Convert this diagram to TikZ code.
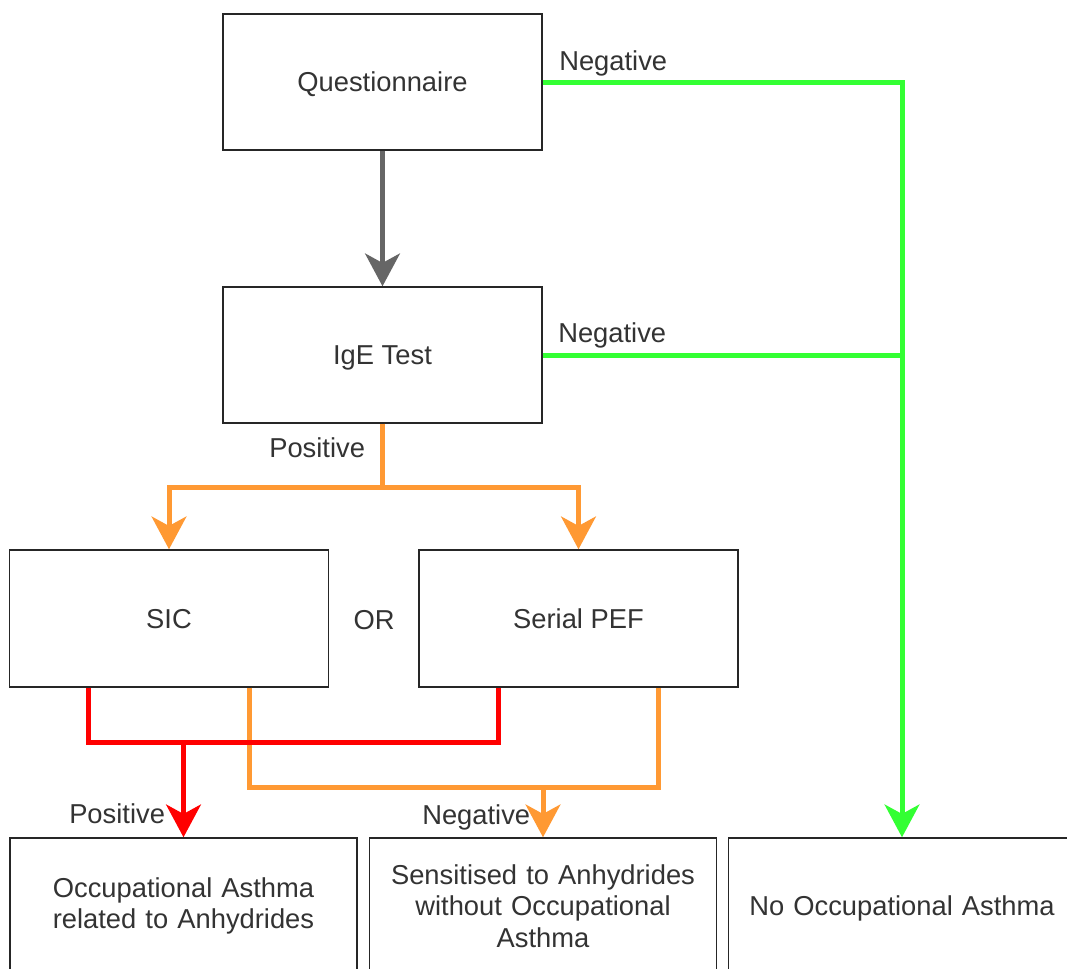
\documentclass[tikz,border=0pt]{standalone}
\usepackage{fontspec}
\setmainfont{Liberation Sans}
\usetikzlibrary{arrows.meta,calc}
\definecolor{txt}{HTML}{333333}
\definecolor{grn}{HTML}{33FF33}
\definecolor{org}{HTML}{FF9933}
\definecolor{rd}{HTML}{FF0000}
\definecolor{gy}{HTML}{666666}
\tikzset{
  box/.style={draw=black!85, line width=1.1pt, fill=white, inner sep=0pt, align=center,
    text=txt, font=\fontsize{20.5}{23.8}\selectfont},
  wbox/.style={box, minimum width=239.25pt, minimum height=102pt, text depth=0pt},
  bbox/.style={box, minimum width=260.5pt, minimum height=102pt, text width=240pt},
  conn/.style={line width=3.75pt, line join=miter},
  tip/.style={-{Stealth[length=24.5pt, width=26pt, inset=7pt]}},
  lbl/.style={text=txt, font=\fontsize{20.5}{23.8}\selectfont, inner sep=0pt, anchor=base west}
}
\begin{document}
\begin{tikzpicture}[x=0.75pt, y=-0.75pt]
\useasboundingbox (0,0) rectangle (1067,968);
\clip (0,0) rectangle (1067,968);
\fill[white] (0,0) rectangle (1067,968);

\node[wbox] (q) at (382.5,82) {Questionnaire};
\node[wbox] (ige) at (382.5,355) {IgE Test};
\node[wbox, minimum height=102.75pt] (sic) at (169,618.5) {SIC};
\node[wbox, minimum height=102.75pt] (pef) at (578.5,618.5) {Serial PEF};
\node[text=txt, font=\fontsize{20.5}{23.8}\selectfont, inner sep=0pt, text depth=0pt] (or) at (374,620) {OR};
\node[bbox] (b1) at (183.5,906) {Occupational Asthma\\related to Anhydrides};
\node[bbox] (b2) at (543,906) {Sensitised to Anhydrides\\without Occupational\\Asthma};
\node[bbox, text depth=0pt] (b3) at (902,906) {No Occupational Asthma};

\coordinate (posy) at (0,487);
\coordinate (redy) at (0,742);
\coordinate (orgy) at (0,787);
\coordinate (sA) at ($(sic.south west)!.25!(sic.south east)$);
\coordinate (sB) at ($(sic.south west)!.75!(sic.south east)$);
\coordinate (pA) at ($(pef.south west)!.25!(pef.south east)$);
\coordinate (pB) at ($(pef.south west)!.75!(pef.south east)$);

% questionnaire -> IgE
\draw[conn, gy, tip] (q.south) -- (ige.north);
% negatives
\draw[conn, grn, tip] (q.east) -| (b3.north);
\draw[conn, grn] (ige.east) -- (ige.east -| b3.north);
% IgE positive
\draw[conn, org] (ige.south) -- (ige.south |- posy);
\draw[conn, org, tip] (ige.south |- posy) -| (sic.north);
\draw[conn, org, tip] (ige.south |- posy) -| (pef.north);
% negative results
\draw[conn, org] (sB) -- (sB |- orgy) -- (pB |- orgy) -- (pB);
\draw[conn, org, tip] (b2.north |- orgy) -- (b2.north);
% positive results
\draw[conn, rd] (sA) -- (sA |- redy) -- (pA |- redy) -- (pA);
\draw[conn, rd, tip] (b1.north |- redy) -- (b1.north);

% labels
\node[lbl] (l1) at (559,70) {Negative};
\node[lbl] (l2) at (558,342) {Negative};
\node[lbl] (l3) at (269,457) {Positive};
\node[lbl] (l4) at (69,823) {Positive};
\node[lbl] (l5) at (422,824) {Negative};
\end{tikzpicture}
\end{document}
